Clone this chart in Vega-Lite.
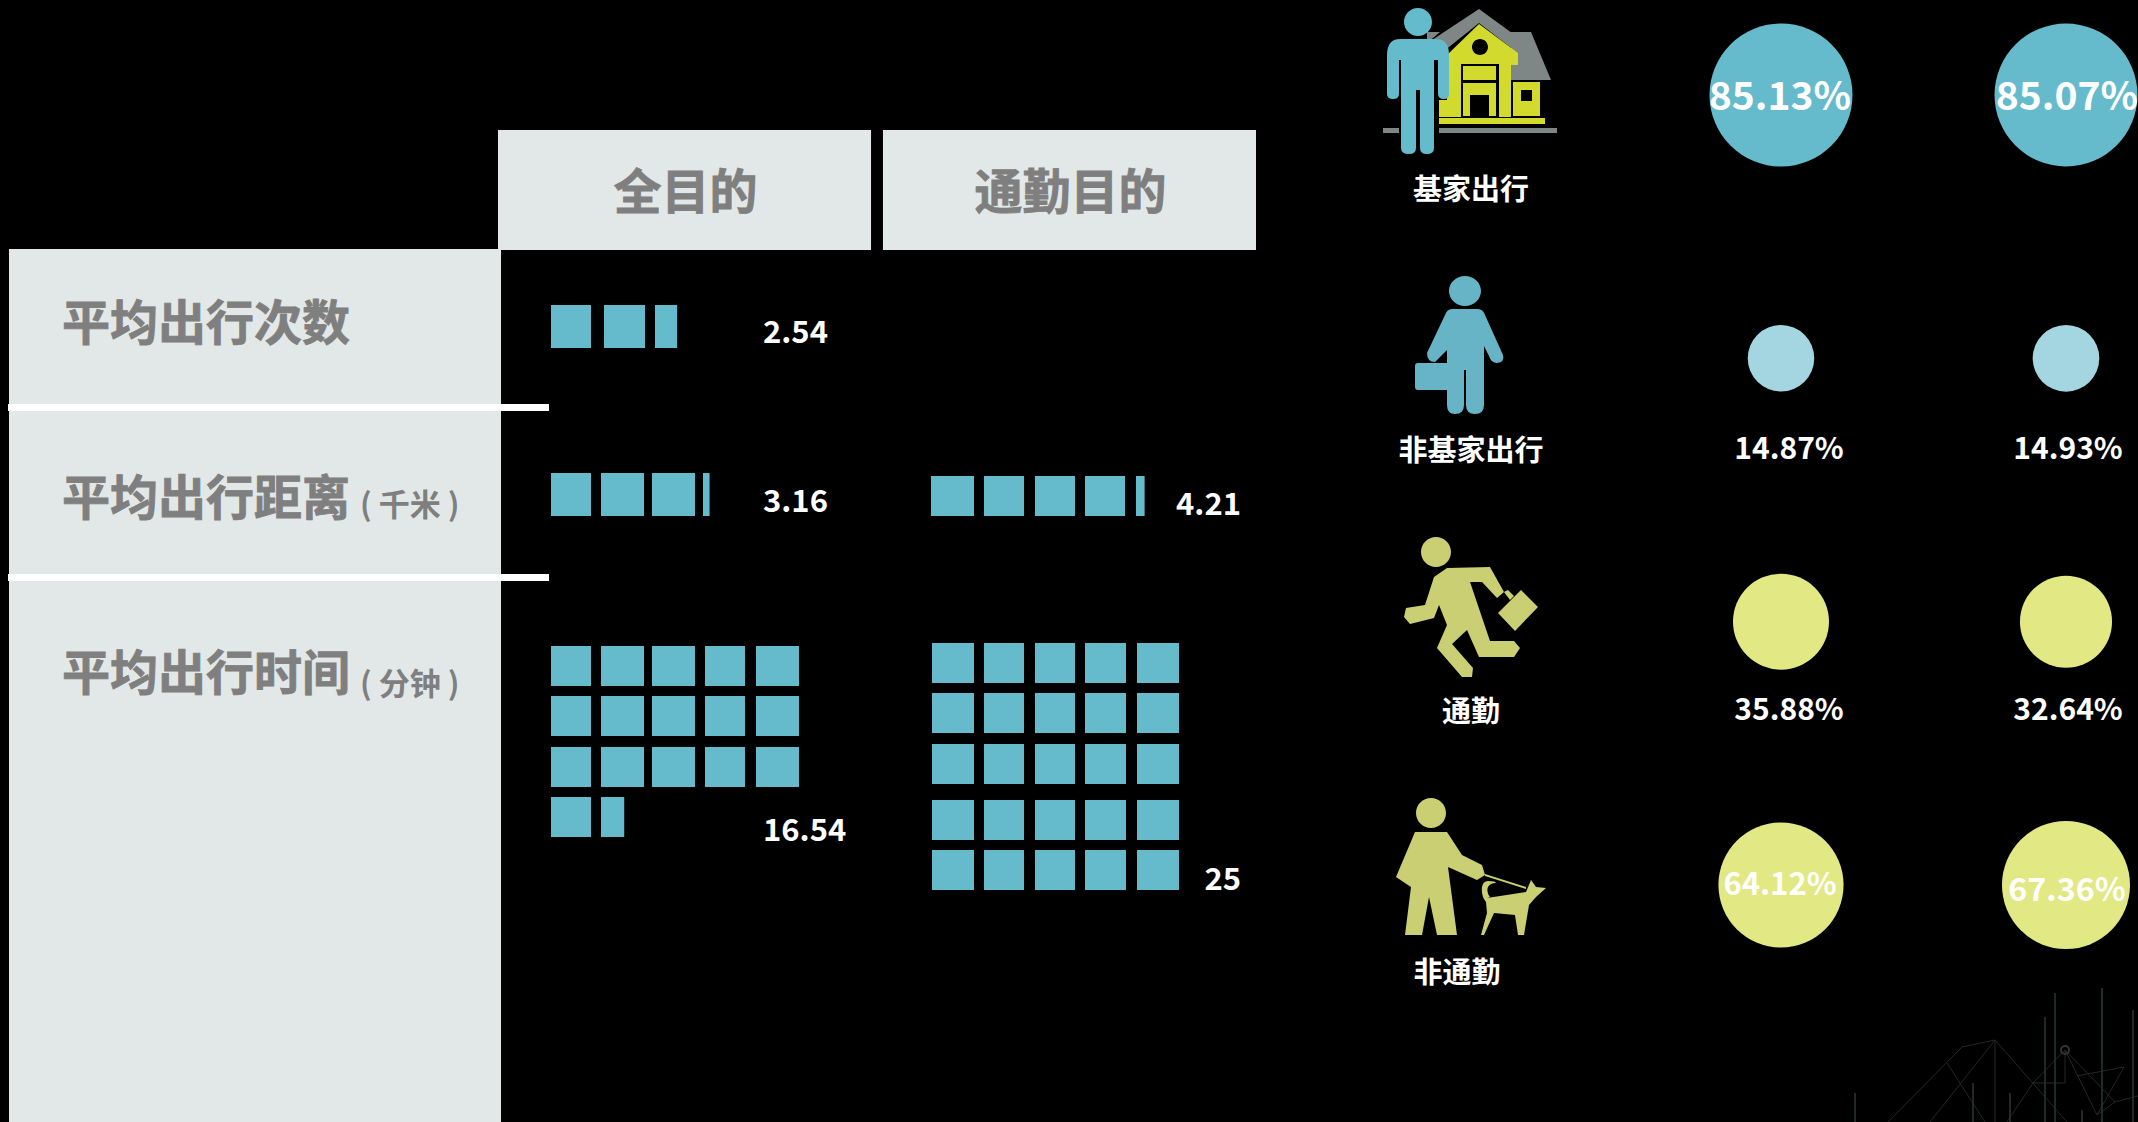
{
"$schema":"https://vega.github.io/schema/vega-lite/v6.json",
"width":2138,"height":1122,"padding":0,"autosize":{"type":"none"},"background":"#000000",
"config":{"view":{"stroke":null},"text":{"font":"Noto Sans CJK SC","fontWeight":"bold"}},
"resolve":{"scale":{"x":"independent","y":"independent","color":"independent","size":"independent","shape":"independent"}},
"datasets":{
"metrics":[{"column":"指标","metric":"平均出行次数","order":0,"next":1,"unit":""},{"column":"指标","metric":"平均出行距离","order":1,"next":2,"unit":"( 千米 )"},{"column":"指标","metric":"平均出行时间","order":2,"next":3,"unit":"( 分钟 )"}],
"purposes":[{"purpose":"全目的","band":"表头"},{"purpose":"通勤目的","band":"表头"}],
"cells_trips_all":[
{"row":0,"rowEnd":0.8,"from":0,"to":0.82,"share":1},{"row":0,"rowEnd":0.8,"from":1,"to":1.82,"share":1},{"row":0,"rowEnd":0.8,"from":2,"to":2.4428,"share":0.54}],
"cells_distance_all":[
{"row":0,"rowEnd":0.8,"from":0,"to":0.82,"share":1},{"row":0,"rowEnd":0.8,"from":1,"to":1.82,"share":1},{"row":0,"rowEnd":0.8,"from":2,"to":2.82,"share":1},{"row":0,"rowEnd":0.8,"from":3,"to":3.1312,"share":0.16}],
"cells_distance_commute":[
{"row":0,"rowEnd":0.8,"from":0,"to":0.82,"share":1},{"row":0,"rowEnd":0.8,"from":1,"to":1.82,"share":1},{"row":0,"rowEnd":0.8,"from":2,"to":2.82,"share":1},{"row":0,"rowEnd":0.8,"from":3,"to":3.82,"share":1},{"row":0,"rowEnd":0.8,"from":4,"to":4.1722,"share":0.21}],
"cells_time_all":[
{"row":0,"rowEnd":0.8,"from":0,"to":0.82,"share":1},{"row":0,"rowEnd":0.8,"from":1,"to":1.82,"share":1},{"row":0,"rowEnd":0.8,"from":2,"to":2.82,"share":1},{"row":0,"rowEnd":0.8,"from":3,"to":3.82,"share":1},{"row":0,"rowEnd":0.8,"from":4,"to":4.82,"share":1},
{"row":1,"rowEnd":1.8,"from":0,"to":0.82,"share":1},{"row":1,"rowEnd":1.8,"from":1,"to":1.82,"share":1},{"row":1,"rowEnd":1.8,"from":2,"to":2.82,"share":1},{"row":1,"rowEnd":1.8,"from":3,"to":3.82,"share":1},{"row":1,"rowEnd":1.8,"from":4,"to":4.82,"share":1},
{"row":2,"rowEnd":2.8,"from":0,"to":0.82,"share":1},{"row":2,"rowEnd":2.8,"from":1,"to":1.82,"share":1},{"row":2,"rowEnd":2.8,"from":2,"to":2.82,"share":1},{"row":2,"rowEnd":2.8,"from":3,"to":3.82,"share":1},{"row":2,"rowEnd":2.8,"from":4,"to":4.82,"share":1},
{"row":3,"rowEnd":3.8,"from":0,"to":0.82,"share":1},{"row":3,"rowEnd":3.8,"from":1,"to":1.4428,"share":0.54}],
"cells_time_commute":[
{"row":0,"rowEnd":0.8,"from":0,"to":0.82,"share":1},{"row":0,"rowEnd":0.8,"from":1,"to":1.82,"share":1},{"row":0,"rowEnd":0.8,"from":2,"to":2.82,"share":1},{"row":0,"rowEnd":0.8,"from":3,"to":3.82,"share":1},{"row":0,"rowEnd":0.8,"from":4,"to":4.82,"share":1},
{"row":1,"rowEnd":1.8,"from":0,"to":0.82,"share":1},{"row":1,"rowEnd":1.8,"from":1,"to":1.82,"share":1},{"row":1,"rowEnd":1.8,"from":2,"to":2.82,"share":1},{"row":1,"rowEnd":1.8,"from":3,"to":3.82,"share":1},{"row":1,"rowEnd":1.8,"from":4,"to":4.82,"share":1},
{"row":2,"rowEnd":2.8,"from":0,"to":0.82,"share":1},{"row":2,"rowEnd":2.8,"from":1,"to":1.82,"share":1},{"row":2,"rowEnd":2.8,"from":2,"to":2.82,"share":1},{"row":2,"rowEnd":2.8,"from":3,"to":3.82,"share":1},{"row":2,"rowEnd":2.8,"from":4,"to":4.82,"share":1},
{"row":3,"rowEnd":3.8,"from":0,"to":0.82,"share":1},{"row":3,"rowEnd":3.8,"from":1,"to":1.82,"share":1},{"row":3,"rowEnd":3.8,"from":2,"to":2.82,"share":1},{"row":3,"rowEnd":3.8,"from":3,"to":3.82,"share":1},{"row":3,"rowEnd":3.8,"from":4,"to":4.82,"share":1},
{"row":4,"rowEnd":4.8,"from":0,"to":0.82,"share":1},{"row":4,"rowEnd":4.8,"from":1,"to":1.82,"share":1},{"row":4,"rowEnd":4.8,"from":2,"to":2.82,"share":1},{"row":4,"rowEnd":4.8,"from":3,"to":3.82,"share":1},{"row":4,"rowEnd":4.8,"from":4,"to":4.82,"share":1}],
"averages":[
{"metric":"平均出行次数","purpose":"全目的","value":2.54},
{"metric":"平均出行距离","purpose":"全目的","value":3.16},
{"metric":"平均出行距离","purpose":"通勤目的","value":4.21},
{"metric":"平均出行时间","purpose":"全目的","value":16.54},
{"metric":"平均出行时间","purpose":"通勤目的","value":25}],
"shares":[
{"trip":"基家出行","purpose":"全目的","share":0.8513},{"trip":"基家出行","purpose":"通勤目的","share":0.8507},
{"trip":"非基家出行","purpose":"全目的","share":0.1487},{"trip":"非基家出行","purpose":"通勤目的","share":0.1493},
{"trip":"通勤","purpose":"全目的","share":0.3588},{"trip":"通勤","purpose":"通勤目的","share":0.3264},
{"trip":"非通勤","purpose":"全目的","share":0.6412},{"trip":"非通勤","purpose":"通勤目的","share":0.6736}],
"trips":[{"trip":"基家出行","order":0},{"trip":"非基家出行","order":1},{"trip":"通勤","order":2},{"trip":"非通勤","order":3}],
"icons":[
{"trip":"基家出行","part":"地面"},{"trip":"基家出行","part":"侧屋"},{"trip":"基家出行","part":"屋顶"},{"trip":"基家出行","part":"房屋"},{"trip":"基家出行","part":"门窗"},{"trip":"基家出行","part":"站立者"},
{"trip":"非基家出行","part":"提包者"},{"trip":"通勤","part":"奔跑者"},{"trip":"非通勤","part":"遛狗者"}],
"backdrop":[{"spot":"角落","part":"网格"},{"spot":"角落","part":"光柱"},{"spot":"角落","part":"节点"}]
},
"layer":[
{"data":{"name":"backdrop"},"mark":{"type":"point","filled":false,"size":4,"opacity":1},
 "encoding":{
  "x":{"field":"spot","type":"nominal","axis":null,"scale":{"type":"point","domain":["角落"],"range":[2000,2000],"padding":0}},
  "y":{"field":"spot","type":"nominal","axis":null,"scale":{"type":"point","domain":["角落"],"range":[1000,1000],"padding":0}},
  "shape":{"field":"part","type":"nominal","legend":null,"scale":{"domain":["网格","光柱","节点"],"range":[
   "M-112,122L-38,47L-5,40L-5,122M-53,63L-15,122M-70,122L-5,40L67,122M7,122L33,83H65V50L33,83M65,50L97,115L124,67L77,76M65,50L115,102L138,96M97,115L115,102",
   "M-145,93V122M-27,83V122M10,93V122M45,17V122M55,-7V122M82,110V122M102,-12V122M133,10V122",
   "M61,50a4,4 0 1,0 8,0a4,4 0 1,0 -8,0Z"]}},
  "stroke":{"field":"part","type":"nominal","legend":null,"scale":{"domain":["网格","光柱","节点"],"range":["#262626","#2c3636","#333333"]}},
  "strokeWidth":{"field":"part","type":"nominal","legend":null,"scale":{"domain":["网格","光柱","节点"],"range":[1,2,4]}}
 }},
{"data":{"name":"metrics"},"mark":{"type":"rect","fill":"#E2E8E7"},
 "encoding":{
  "x":{"field":"column","type":"nominal","axis":null,"scale":{"type":"band","domain":["指标"],"range":[9,501],"padding":0}},
  "y":{"field":"order","type":"quantitative","axis":null,"scale":{"domain":[0,1,2,3],"range":[249,407,577,1122],"nice":false,"zero":false}},
  "y2":{"field":"next"}
 }},
{"data":{"name":"metrics"},"transform":[{"filter":"datum.order > 0"}],"mark":{"type":"rule","color":"#FFFFFF","strokeWidth":7},
 "encoding":{
  "x":{"datum":0,"type":"quantitative","axis":null,"scale":{"domain":[0,1],"range":[8,549],"nice":false,"zero":false}},
  "x2":{"datum":1},
  "y":{"field":"order","type":"quantitative","axis":null,"scale":{"domain":[1,2],"range":[407.5,577.5],"nice":false,"zero":false}}
 }},
{"data":{"name":"purposes"},"mark":{"type":"rect","fill":"#E2E8E7"},
 "encoding":{
  "x":{"field":"purpose","type":"nominal","axis":null,"scale":{"type":"band","domain":["全目的","通勤目的"],"range":[498,1256],"paddingInner":0.031,"paddingOuter":0}},
  "y":{"field":"band","type":"nominal","axis":null,"scale":{"type":"band","domain":["表头"],"range":[130,250],"padding":0}}
 }},
{"data":{"name":"purposes"},"mark":{"type":"text","fontSize":48,"color":"#7F7F7F","stroke":"#7F7F7F","strokeWidth":0.8,"baseline":"middle","align":"center","dx":1,"dy":5},
 "encoding":{
  "x":{"field":"purpose","type":"nominal","axis":null,"scale":{"type":"band","domain":["全目的","通勤目的"],"range":[498,1256],"paddingInner":0.031,"paddingOuter":0}},
  "y":{"field":"band","type":"nominal","axis":null,"scale":{"type":"band","domain":["表头"],"range":[130,250],"padding":0}},
  "text":{"field":"purpose"}
 }},
{"data":{"name":"metrics"},"mark":{"type":"text","fontSize":48,"color":"#7F7F7F","stroke":"#7F7F7F","strokeWidth":0.8,"baseline":"middle","align":"left"},
 "encoding":{
  "x":{"field":"column","type":"nominal","axis":null,"scale":{"type":"point","domain":["指标"],"range":[62,62],"padding":0}},
  "y":{"field":"metric","type":"nominal","axis":null,"scale":{"type":"point","domain":["平均出行次数","平均出行距离","平均出行时间"],"range":[326,676],"padding":0}},
  "text":{"field":"metric"}
 }},
{"data":{"name":"metrics"},"transform":[{"filter":"datum.order > 0"}],"mark":{"type":"text","fontSize":31,"color":"#7F7F7F","baseline":"middle","align":"left"},
 "encoding":{
  "x":{"field":"column","type":"nominal","axis":null,"scale":{"type":"point","domain":["指标"],"range":[360,360],"padding":0}},
  "y":{"field":"metric","type":"nominal","axis":null,"scale":{"type":"point","domain":["平均出行距离","平均出行时间"],"range":[507,686],"padding":0}},
  "text":{"field":"unit"}
 }},
{"data":{"name":"cells_trips_all"},"mark":{"type":"rect","fill":"#65BBCC"},
 "encoding":{
  "x":{"field":"from","type":"quantitative","axis":null,"scale":{"domain":[0,0.82,1,1.82,2,2.82],"range":[551,591,604,645,655,696],"nice":false,"zero":false}},"x2":{"field":"to"},
  "y":{"field":"row","type":"quantitative","axis":null,"scale":{"domain":[0,0.8],"range":[305,348],"nice":false,"zero":false}},"y2":{"field":"rowEnd"}
 }},
{"data":{"name":"cells_distance_all"},"mark":{"type":"rect","fill":"#65BBCC"},
 "encoding":{
  "x":{"field":"from","type":"quantitative","axis":null,"scale":{"domain":[0,0.82,1,1.82,2,2.82,3,3.82],"range":[551,591,601,644,652,695,703,744],"nice":false,"zero":false}},"x2":{"field":"to"},
  "y":{"field":"row","type":"quantitative","axis":null,"scale":{"domain":[0,0.8],"range":[473,516],"nice":false,"zero":false}},"y2":{"field":"rowEnd"}
 }},
{"data":{"name":"cells_distance_commute"},"mark":{"type":"rect","fill":"#65BBCC"},
 "encoding":{
  "x":{"field":"from","type":"quantitative","axis":null,"scale":{"domain":[0,0.82,1,1.82,2,2.82,3,3.82,4,4.82],"range":[931,974,984,1024,1035,1075,1085,1125,1136,1177],"nice":false,"zero":false}},"x2":{"field":"to"},
  "y":{"field":"row","type":"quantitative","axis":null,"scale":{"domain":[0,0.8],"range":[476,516],"nice":false,"zero":false}},"y2":{"field":"rowEnd"}
 }},
{"data":{"name":"cells_time_all"},"mark":{"type":"rect","fill":"#65BBCC"},
 "encoding":{
  "x":{"field":"from","type":"quantitative","axis":null,"scale":{"domain":[0,0.82,1,1.82,2,2.82,3,3.82,4,4.82],"range":[551,591,601,644,652,695,705,745,756,799],"nice":false,"zero":false}},"x2":{"field":"to"},
  "y":{"field":"row","type":"quantitative","axis":null,"scale":{"domain":[0,0.8,1,1.8,2,2.8,3,3.8],"range":[646,686,696,736,747,787,797,837],"nice":false,"zero":false}},"y2":{"field":"rowEnd"}
 }},
{"data":{"name":"cells_time_commute"},"mark":{"type":"rect","fill":"#65BBCC"},
 "encoding":{
  "x":{"field":"from","type":"quantitative","axis":null,"scale":{"domain":[0,0.82,1,1.82,2,2.82,3,3.82,4,4.82],"range":[932,974,984,1024,1035,1075,1085,1126,1137,1179],"nice":false,"zero":false}},"x2":{"field":"to"},
  "y":{"field":"row","type":"quantitative","axis":null,"scale":{"domain":[0,0.8,1,1.8,2,2.8,3,3.8,4,4.8],"range":[643,683,693,733,744,784,800,840,850,890],"nice":false,"zero":false}},"y2":{"field":"rowEnd"}
 }},
{"data":{"name":"averages"},"transform":[{"filter":"datum.purpose === '全目的'"}],"mark":{"type":"text","fontSize":31,"color":"#FFFFFF","baseline":"middle","align":"left"},
 "encoding":{
  "x":{"field":"purpose","type":"nominal","axis":null,"scale":{"type":"point","domain":["全目的"],"range":[763,763],"padding":0}},
  "y":{"field":"value","type":"quantitative","axis":null,"scale":{"domain":[2.54,3.16,16.54],"range":[334,503,832],"nice":false,"zero":false}},
  "text":{"field":"value","type":"nominal"}
 }},
{"data":{"name":"averages"},"transform":[{"filter":"datum.purpose === '通勤目的'"}],"mark":{"type":"text","fontSize":31,"color":"#FFFFFF","baseline":"middle","align":"right"},
 "encoding":{
  "x":{"field":"purpose","type":"nominal","axis":null,"scale":{"type":"point","domain":["通勤目的"],"range":[1241,1241],"padding":0}},
  "y":{"field":"value","type":"quantitative","axis":null,"scale":{"domain":[4.21,25],"range":[506,881],"nice":false,"zero":false}},
  "text":{"field":"value","type":"nominal"}
 }},
{"data":{"name":"icons"},"mark":{"type":"point","filled":true,"size":4,"opacity":1,"strokeWidth":0},
 "encoding":{
  "x":{"field":"trip","type":"nominal","axis":null,"scale":{"type":"point","domain":["基家出行","非基家出行","通勤","非通勤"],"range":[1470,1470],"padding":0}},
  "y":{"field":"trip","type":"nominal","axis":null,"scale":{"type":"point","domain":["基家出行","非基家出行","通勤","非通勤"],"range":[80,866],"padding":0}},
  "shape":{"field":"part","type":"nominal","legend":null,"scale":{"domain":["地面","侧屋","屋顶","房屋","门窗","站立者","提包者","奔跑者","遛狗者"],"range":[
   "M-87,48H-71V53H-87ZM-31,48H87V53H-31Z",
   "M41,-48H61L81,0H41Z",
   "M9,-71L61,-33L53,-23L9,-57L-31,-25L-41,-38ZM-43,-48H-30L-43,-37Z",
   "M9,-56L48,-27V-15H41V37H-23V-25ZM-31,38H75V44H-31ZM43,2H70V36H43ZM-31,20H-23V37H-31Z",
   "M-9,-16H29V38H-9ZM-7,-14V0H26V-14ZM-7,3V36H26V3ZM0,15H19V37H0ZM2,-33a8,8 0 1,0 16,0a8,8 0 1,0 -16,0ZM51,10H62V21H51Z",
   "M-66,-58a14,14 0 1,0 28,0a14,14 0 1,0 -28,0ZM-70,-41H-34Q-21,-41 -21,-25V14Q-21,19 -26,19Q-32,19 -32,14V-20H-36V68Q-36,74 -43,74Q-50,74 -50,68V10H-54V68Q-54,74 -61,74Q-69,74 -69,68V-20H-71V14Q-71,19 -77,19Q-83,19 -83,14V-25Q-83,-41 -70,-41Z",
   "M-21,-51a16,15 0 1,0 32,0a16,15 0 1,0 -32,0ZM-18,-33H8Q13,-33 15,-27L33,13Q35,20 27,21Q21,21 19,14L14,4V63Q14,72 5,72Q-4,72 -4,63V28H-6V63Q-6,72 -15,72Q-23,72 -23,63V8L-35,20Q-43,20 -43,11L-25,-27Q-23,-33 -18,-33ZM-52,21H-23V48H-52Q-55,48 -55,45V24Q-55,21 -52,21Z",
   "M-49,-52a15,15 0 1,0 30,0a15,15 0 1,0 -30,0ZM-23,-36L20,-37L34,-12L27,-6L12,-22H0L20,37H44L50,44L44,53H9L-3,26L-18,40L3,64L2,73H-8L-33,44L-23,21L-31,1L-36,14L-60,20L-66,13L-64,4L-45,1L-36,-27ZM51,-14L68,3L45,27L28,9ZM34,-12L38,-14L44,-8L40,-4Z",
   "M-54,-53a15,15 0 1,0 30,0a15,15 0 1,0 -30,0ZM-55,-34H-23L-8,-11L12,-1L15,9L7,14L-22,1L-13,69H-33L-41,31L-48,69H-65L-59,21L-74,11ZM15,8L56,21V23L15,10ZM17,32L56,26L61,14L66,21L76,22L66,31L59,39L54,69H48L45,49L24,47L14,69H11L17,47L16,36Q11,30 12,21Q13,15 18,15Q26,15 26,17Q20,17 18,21Q16,26 20,31Z"
  ]}},
  "color":{"field":"part","type":"nominal","legend":null,"scale":{"domain":["地面","侧屋","屋顶","房屋","门窗","站立者","提包者","奔跑者","遛狗者"],"range":["#7F8786","#7F8786","#7F8786","#D2DB2D","#000000","#64BBCC","#66B4C5","#C9CF72","#C9CF72"]}}
 }},
{"data":{"name":"trips"},"mark":{"type":"text","fontSize":29,"color":"#FFFFFF","baseline":"middle","align":"center"},
 "encoding":{
  "x":{"field":"order","type":"quantitative","axis":null,"scale":{"domain":[0,2,3],"range":[1471,1471,1457],"nice":false,"zero":false}},
  "y":{"field":"trip","type":"nominal","axis":null,"scale":{"type":"point","domain":["基家出行","非基家出行","通勤","非通勤"],"range":[191,974],"padding":0}},
  "text":{"field":"trip"}
 }},
{"data":{"name":"shares"},"mark":{"type":"point","shape":"circle","filled":true,"opacity":1,"strokeWidth":0},
 "encoding":{
  "x":{"field":"purpose","type":"nominal","axis":null,"scale":{"type":"point","domain":["全目的","通勤目的"],"range":[1781,2066],"padding":0}},
  "y":{"field":"trip","type":"nominal","axis":null,"scale":{"type":"point","domain":["基家出行","非基家出行","通勤","非通勤"],"range":[95,885],"padding":0}},
  "size":{"field":"share","type":"quantitative","legend":null,"scale":{"domain":[0.1487,0.8513],"range":[4422,20449],"zero":false,"nice":false}},
  "color":{"field":"trip","type":"nominal","legend":null,"scale":{"domain":["基家出行","非基家出行","通勤","非通勤"],"range":["#65BBCC","#A3D6E0","#E1E884","#E1E884"]}}
 }},
{"data":{"name":"shares"},"transform":[{"filter":"datum.share > 0.5"}],"mark":{"type":"text","color":"#FFFFFF","baseline":"middle","align":"center"},
 "encoding":{
  "x":{"field":"purpose","type":"nominal","axis":null,"scale":{"type":"point","domain":["全目的","通勤目的"],"range":[1780,2067],"padding":0}},
  "y":{"field":"share","type":"quantitative","axis":null,"scale":{"domain":[0.6412,0.6736,0.8507,0.8513],"range":[886,891,98,98],"zero":false,"nice":false}},
  "size":{"field":"share","type":"quantitative","legend":null,"scale":{"domain":[0.64,0.85],"range":[31,39],"zero":false,"nice":false}},
  "text":{"field":"share","type":"quantitative","format":".2%"}
 }},
{"data":{"name":"shares"},"transform":[{"filter":"datum.share < 0.5"}],"mark":{"type":"text","fontSize":30,"color":"#FFFFFF","baseline":"middle","align":"center"},
 "encoding":{
  "x":{"field":"purpose","type":"nominal","axis":null,"scale":{"type":"point","domain":["全目的","通勤目的"],"range":[1789,2068],"padding":0}},
  "y":{"field":"trip","type":"nominal","axis":null,"scale":{"type":"point","domain":["非基家出行","通勤"],"range":[450,711],"padding":0}},
  "text":{"field":"share","type":"quantitative","format":".2%"}
 }}
]
}
